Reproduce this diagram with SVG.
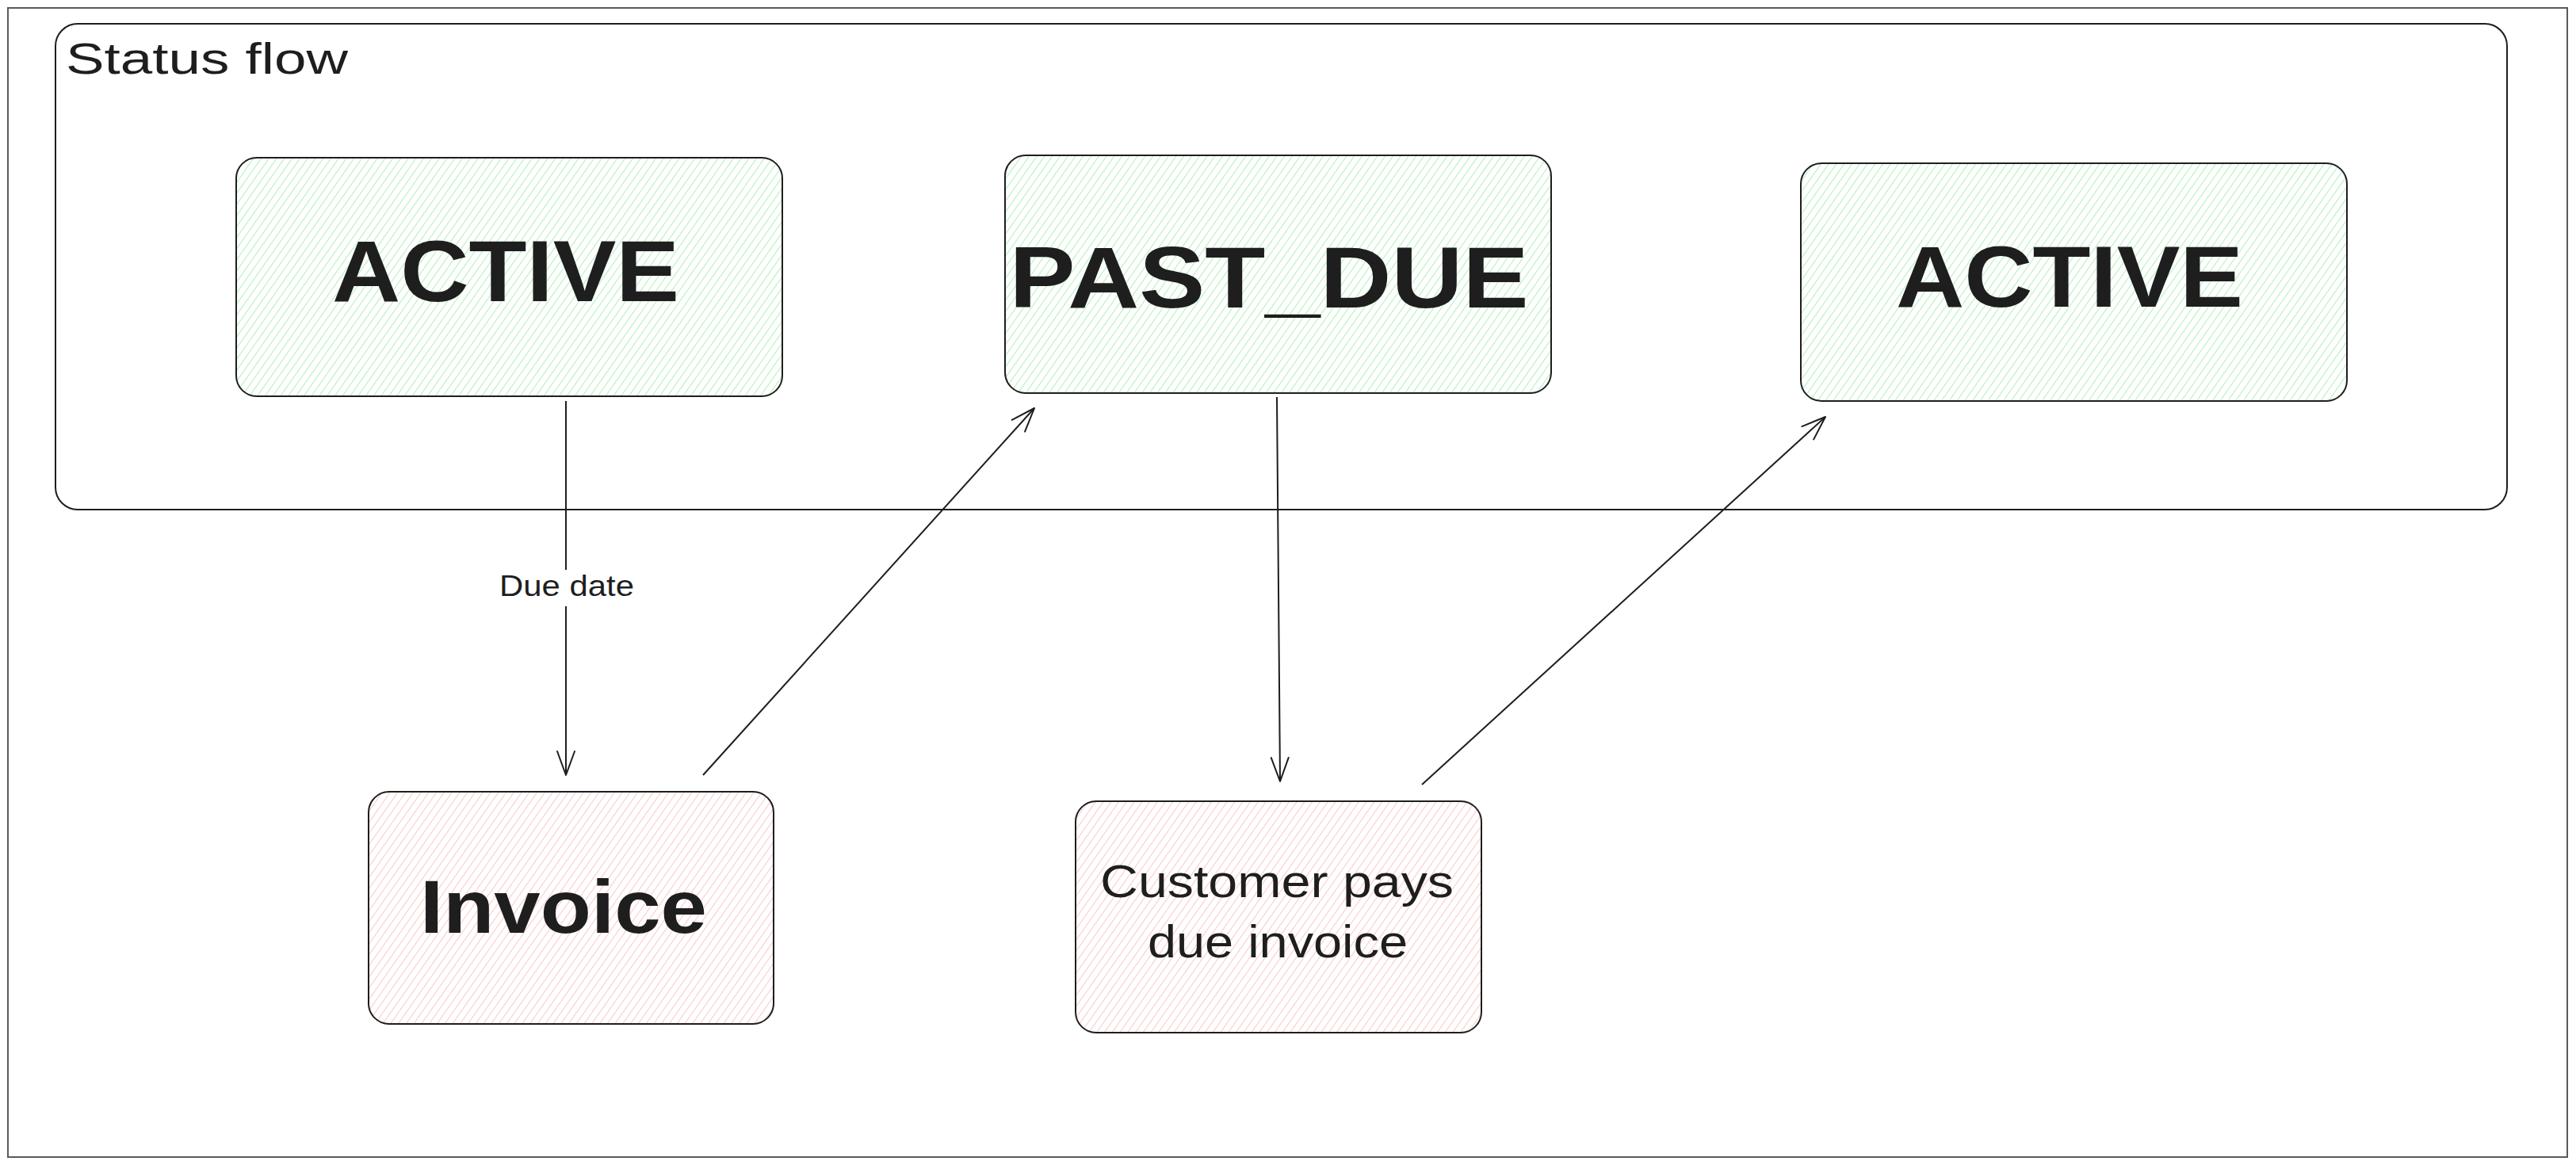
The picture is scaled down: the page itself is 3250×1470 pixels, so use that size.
<svg xmlns="http://www.w3.org/2000/svg" width="3250" height="1470" viewBox="0 0 3250 1470">
  <style>
    .box { stroke: #1e1e1e; stroke-width: 2; }
    .green { fill: url(#hatchGreen); }
    .red { fill: url(#hatchRed); }
    .big { font-family: "Liberation Sans", Arial, sans-serif; font-weight: 700; fill: #1e1e1e; text-anchor: middle; }
    .small { font-family: "Liberation Sans", Arial, sans-serif; fill: #1e1e1e; text-anchor: middle; }
    .conn { stroke: #1e1e1e; stroke-width: 2; fill: none; marker-end: url(#arrow); }
  </style>
  <defs>
    <pattern id="hatchGreen" patternUnits="userSpaceOnUse" width="8" height="8" patternTransform="rotate(35)">
      <rect width="8" height="8" fill="#ffffff"/>
      <line x1="0" y1="0" x2="0" y2="8" stroke="#b2f2bb" stroke-width="2.2"/>
    </pattern>
    <pattern id="hatchRed" patternUnits="userSpaceOnUse" width="8" height="8" patternTransform="rotate(35)">
      <rect width="8" height="8" fill="#ffffff"/>
      <line x1="0" y1="0" x2="0" y2="8" stroke="#ffc9c9" stroke-width="2.2"/>
    </pattern>
    <marker id="arrow" markerUnits="userSpaceOnUse" markerWidth="40" markerHeight="30" viewBox="-32 -15 34 30" refX="0" refY="0" orient="auto">
      <path d="M -30 -11 L 0 0 L -30 11" fill="none" stroke="#1e1e1e" stroke-width="2" stroke-linecap="round" stroke-linejoin="round"/>
    </marker>
  </defs>

  <rect x="0" y="0" width="3250" height="1470" fill="#ffffff"/>
  <rect id="border" x="10" y="10" width="3229" height="1450" fill="none" stroke="#5a5a5a" stroke-width="2"/>

  <g id="frame-status-flow">
    <rect x="70" y="30" width="3093" height="613" rx="28" ry="28" fill="none" stroke="#1e1e1e" stroke-width="2"/>
    <text x="83" y="93" font-family="Liberation Sans, Arial, sans-serif" font-size="56" fill="#1e1e1e" textLength="356" lengthAdjust="spacingAndGlyphs">Status flow</text>
  </g>

  <g id="node-active-1">
    <rect class="box green" x="298" y="199" width="689" height="301" rx="26" ry="26"/>
    <text class="big" x="638" y="380" font-size="110" textLength="438" lengthAdjust="spacingAndGlyphs">ACTIVE</text>
  </g>

  <g id="node-past-due">
    <rect class="box green" x="1268" y="196" width="689" height="300" rx="26" ry="26"/>
    <text class="big" x="1601" y="388" font-size="110" textLength="655" lengthAdjust="spacingAndGlyphs">PAST_DUE</text>
  </g>

  <g id="node-active-2">
    <rect class="box green" x="2272" y="206" width="689" height="300" rx="26" ry="26"/>
    <text class="big" x="2611" y="387" font-size="110" textLength="438" lengthAdjust="spacingAndGlyphs">ACTIVE</text>
  </g>

  <g id="node-invoice">
    <rect class="box red" x="465" y="999" width="511" height="293" rx="26" ry="26"/>
    <text class="big" x="711" y="1177" font-size="94" textLength="362" lengthAdjust="spacingAndGlyphs">Invoice</text>
  </g>

  <g id="node-customer-pays">
    <rect class="box red" x="1357" y="1011" width="512" height="292" rx="26" ry="26"/>
    <text class="small" x="1611" y="1132" font-size="58" textLength="446" lengthAdjust="spacingAndGlyphs">Customer pays</text>
    <text class="small" x="1612" y="1208" font-size="58" textLength="328" lengthAdjust="spacingAndGlyphs">due invoice</text>
  </g>

  <g id="connectors">
    <line class="conn" x1="714" y1="506" x2="714" y2="978"/>
    <rect x="626" y="719" width="178" height="46" fill="#ffffff"/>
    <text class="small" x="715" y="752" font-size="36" textLength="170" lengthAdjust="spacingAndGlyphs">Due date</text>
    <line class="conn" x1="887" y1="978" x2="1305" y2="515"/>
    <line class="conn" x1="1611" y1="501" x2="1615" y2="986"/>
    <line class="conn" x1="1794" y1="990" x2="2303" y2="526"/>
  </g>
</svg>
